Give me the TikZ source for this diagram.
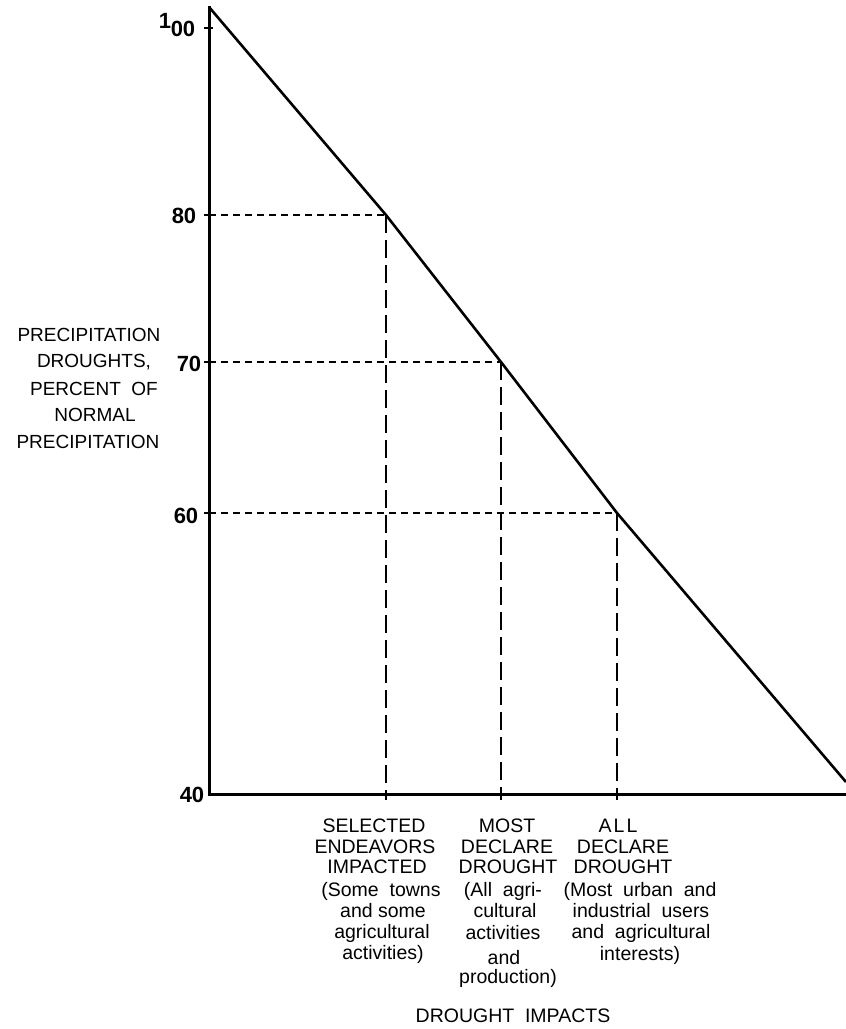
\documentclass[tikz,border=0pt]{standalone}
\usepackage{fontspec}
\setmainfont{Liberation Sans}
\usetikzlibrary{calc}
\begin{document}
\begin{tikzpicture}[x=1pt,y=-1pt,
  axis/.style={line width=3pt},
  diag/.style={line width=2.6pt},
  hguide/.style={line width=2pt, dash pattern=on 7pt off 5pt},
  vguide/.style={line width=2pt, dash pattern=on 18pt off 7pt},
  tickmark/.style={line width=2pt},
  num/.style={font=\fontsize{22}{22}\selectfont\bfseries, inner sep=0pt},
  ylab/.style={font=\fontsize{19}{19}\selectfont, inner sep=0pt},
  lab/.style={font=\fontsize{19.5}{19.5}\selectfont, inner sep=0pt},
]
\useasboundingbox (0,0) rectangle (846,1029);

% frame points
\coordinate (top) at (209,7);
\coordinate (origin) at (209,794);
\coordinate (xend) at (846,794);
\coordinate (p80) at (386,215);
\coordinate (p70) at (501,362);
\coordinate (p60) at (617,513);
\coordinate (dend) at (846,782);
\coordinate (a100) at (209,28);
\coordinate (a80) at (209,215);
\coordinate (a70) at (209,362);
\coordinate (a60) at (209,513);
\coordinate (b80) at (386,800);
\coordinate (b70) at (501,800);
\coordinate (b60) at (617,800);

% axes
\draw[axis, line cap=rect] (top) -- (origin) -- (xend);
% diagonal
\draw[diag, line join=round] (top) -- (p80) -- (p70) -- (p60) -- (dend);

% guides
\draw[hguide] (a80) -- (p80);
\draw[vguide] (p80) -- (b80);
\draw[hguide] (a70) -- (p70);
\draw[vguide] (p70) -- (b70);
\draw[hguide] (a60) -- (p60);
\draw[vguide] (p60) -- (b60);

% ticks
\foreach \c in {a100,a80,a70,a60}
  \draw[tickmark] ($(\c)+(-5,0)$) -- ($(\c)+(4,0)$);

% tick labels
\node[num] (n1) at (165,21) {1};
\node[num] (n00) at (183,29) {00};
\node[num] (n80) at (184,216) {80};
\node[num] (n70) at (189,364) {70};
\node[num] (n60) at (186,516) {60};
\node[num] (n40) at (192,795) {40};

% y-axis title
\node[ylab] (y1) at (89,335) {PRECIPITATION};
\node[ylab] (y2) at (94,362) {DROUGHTS,};
\node[ylab] (y3) at (94,389) {PERCENT\ \ OF};
\node[ylab] (y4) at (95,415) {NORMAL};
\node[ylab] (y5) at (88,442) {PRECIPITATION};

% column 1
\node[lab] (c1a) at (374,826) {SELECTED};
\node[lab] (c1b) at (375,847) {ENDEAVORS};
\node[lab] (c1c) at (377,867) {IMPACTED};
\node[lab] (c1d) at (381,891) {(Some\ \ towns};
\node[lab] (c1e) at (383,911) {and some};
\node[lab] (c1f) at (382,933) {agricultural};
\node[lab] (c1g) at (383,954) {activities)};

% column 2
\node[lab] (c2a) at (507,826) {MOST};
\node[lab] (c2b) at (507,847) {DECLARE};
\node[lab] (c2c) at (508,867) {DROUGHT};
\node[lab] (c2d) at (503,891) {(All\ \ agri-};
\node[lab] (c2e) at (505,911) {cultural};
\node[lab] (c2f) at (503,933) {activities};
\node[lab] (c2g) at (504,958) {and};
\node[lab] (c2h) at (508,978) {production)};

% column 3
\node[lab] (c3a) at (618,826) {A\kern2pt L\kern2pt L};
\node[lab] (c3b) at (623,847) {DECLARE};
\node[lab] (c3c) at (623,867) {DROUGHT};
\node[lab] (c3d) at (640,891) {(Most\ \ urban\ \ and};
\node[lab] (c3e) at (641,911) {industrial\ \ users};
\node[lab] (c3f) at (641,933) {and\ \ agricultural};
\node[lab] (c3g) at (640,955) {interests)};

% x-axis title
\node[lab] (xt) at (513,1016) {DROUGHT\ \ IMPACTS};
\end{tikzpicture}
\end{document}
